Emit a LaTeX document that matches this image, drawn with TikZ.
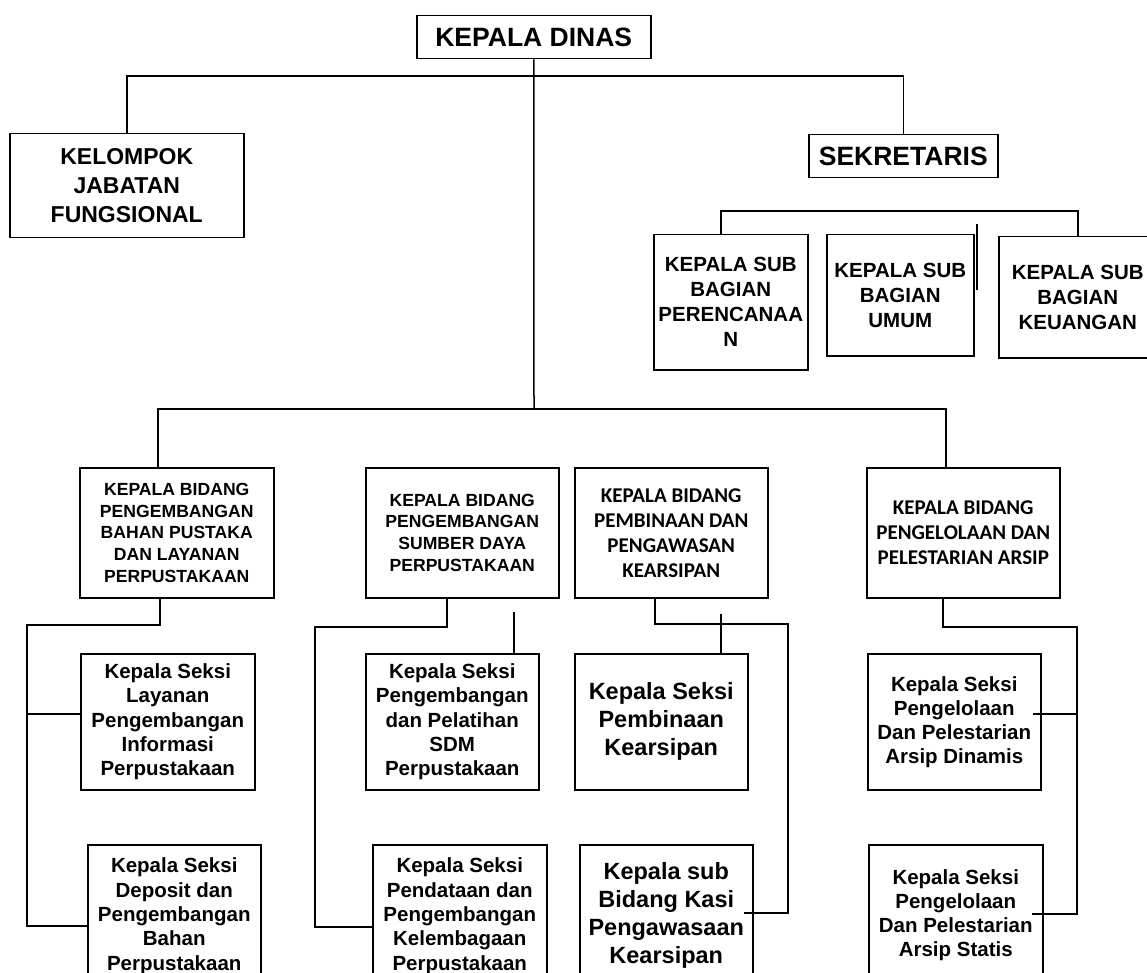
\documentclass[tikz,border=0pt]{standalone}
\usepackage{fontspec}
\setmainfont{Liberation Sans}
\newfontfamily\calibri{Carlito}
\usepackage{tikz}

\begin{document}
\begin{tikzpicture}[x=1pt, y=-1pt, line width=1.5pt,
  box/.style = {shape=rectangle, draw, align=center, inner sep=0pt,
    anchor=north west},
  head/.style = {box, font=\bfseries\fontsize{26.5}{30}\selectfont},
  kjfbox/.style = {box, font=\bfseries\fontsize{23}{29}\selectfont},
  subbag/.style = {box, font=\bfseries\fontsize{20.5}{25}\selectfont},
  bidang/.style = {box, minimum width=194, minimum height=130,
    font=\bfseries\fontsize{17.6}{21.7}\selectfont},
  bidangc/.style = {box, minimum width=193, minimum height=130,
    font=\calibri\bfseries\fontsize{21}{25}\selectfont},
  seksi/.style = {box, minimum width=173,
    font=\bfseries\fontsize{20.5}{24.4}\selectfont},
  seksibig/.style = {box, minimum width=173,
    font=\bfseries\fontsize{23.5}{28}\selectfont}]
  \useasboundingbox (0,0) rectangle (1147,973);
  \clip (0,0) rectangle (1147,973);

  \node[head, minimum width=234, minimum height=43] (kd) at (416,15) {KEPALA DINAS};
  \node[kjfbox, minimum width=234, minimum height=104] (kjf) at (9,133)
    {KELOMPOK\\JABATAN\\FUNGSIONAL};
  \node[head, minimum width=189, minimum height=43] (sek) at (808,134) {SEKRETARIS};

  \node[subbag, minimum width=154, minimum height=135] (perenc) at (653,234)
    {KEPALA SUB\\BAGIAN\\PERENCANAA\\N};
  \node[subbag, minimum width=147, minimum height=121] (umum) at (826,234)
    {KEPALA SUB\\BAGIAN\\UMUM};
  \node[subbag, minimum width=158, minimum height=121] (keu) at (998,236)
    {KEPALA SUB\\BAGIAN\\KEUANGAN};

  \node[bidang] (kb1) at (79,467)
    {KEPALA BIDANG\\PENGEMBANGAN\\BAHAN PUSTAKA\\DAN LAYANAN\\PERPUSTAKAAN};
  \node[bidang, minimum width=193] (kb2) at (365,467)
    {KEPALA BIDANG\\PENGEMBANGAN\\SUMBER DAYA\\PERPUSTAKAAN};
  \node[bidangc] (kb3) at (574,467)
    {KEPALA BIDANG\\PEMBINAAN DAN\\PENGAWASAN\\KEARSIPAN};
  \node[bidangc] (kb4) at (866,467)
    {KEPALA BIDANG\\PENGELOLAAN DAN\\PELESTARIAN ARSIP};

  \node[seksi, minimum width=174, minimum height=136] (ks1) at (80,653)
    {Kepala Seksi\\Layanan\\Pengembangan\\Informasi\\Perpustakaan};
  \node[seksi, minimum height=143] (ks2) at (87,844)
    {Kepala Seksi\\Deposit dan\\Pengembangan\\Bahan\\Perpustakaan};
  \node[seksi, minimum height=136] (ks3) at (365,653)
    {Kepala Seksi\\Pengembangan\\dan Pelatihan\\SDM\\Perpustakaan};
  \node[seksi, minimum width=174, minimum height=143] (ks4) at (372,844)
    {Kepala Seksi\\Pendataan dan\\Pengembangan\\Kelembagaan\\Perpustakaan};
  \node[seksibig, minimum height=136] (ks5) at (574,653)
    {Kepala Seksi\\Pembinaan\\Kearsipan};
  \node[seksibig, minimum height=142] (ks6) at (579,844)
    {Kepala sub\\Bidang Kasi\\Pengawasaan\\Kearsipan};
  \node[seksi, minimum height=136, font=\bfseries\fontsize{20.5}{24}\selectfont] (ks7) at (867,653)
    {Kepala Seksi\\Pengelolaan\\Dan Pelestarian\\Arsip Dinamis};
  \node[seksi, minimum width=174, minimum height=140, font=\bfseries\fontsize{20.5}{24}\selectfont] (ks8) at (868,844)
    {Kepala Seksi\\Pengelolaan\\Dan Pelestarian\\Arsip Statis};

  \coordinate (topbar) at (534,76);
  \coordinate (midbar) at (534,409);
  \coordinate (sekbar) at (900,211);
  \coordinate (stray) at (977,224);
  \coordinate (bus1) at (27,625);
  \coordinate (bus2) at (315,627);
  \coordinate (bus3) at (788,624);
  \coordinate (bus4) at (1077,627);

  \draw (kjf.north) |- (topbar) -| (sek.north);
  \draw (kd.south) -- (midbar);
  \draw ([xshift=-19]kb1.north) |- (midbar) -| ([xshift=-17.5]kb4.north);
  \draw ([xshift=-10]perenc.north) |- (sekbar) -| (keu.north);
  \draw (stray) -- ++(0,66);

  \draw ([xshift=-17]kb1.south) |- (bus1) |- ([yshift=-9.5]ks2.west);
  \draw (bus1) |- ([yshift=8]ks1.west);
  \draw ([xshift=-15.5]kb2.south) |- (bus2) |- ([xshift=1.5,yshift=-10.5]ks4.west);
  \draw ([xshift=61.5]ks3.north) -- ++(0,-41);
  \draw ([xshift=-16.5]kb3.south) |- (bus3) |- ([xshift=-10,yshift=3]ks6.east);
  \draw ([xshift=59.5]ks5.north) -- ++(0,-39);
  \draw ([xshift=-20.5]kb4.south) |- (bus4) |- ([xshift=-12,yshift=1]ks8.east);
  \draw (bus4) |- ([xshift=-9,yshift=8]ks7.east);
\end{tikzpicture}
\end{document}
